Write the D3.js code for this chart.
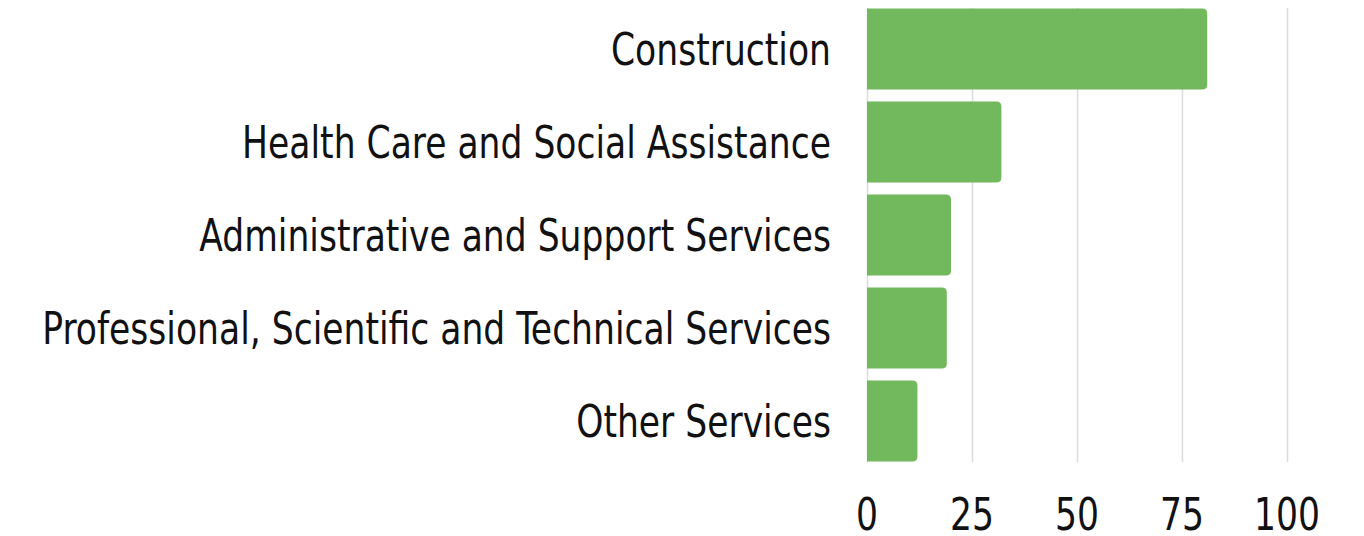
<!DOCTYPE html>
<html>
<head>
<meta charset="utf-8">
<script src="https://cdn.jsdelivr.net/npm/d3@7"></script>
<style>
  body { margin: 0; background: #fff; }
  text { font-family: "Liberation Sans Narrow", "DejaVu Sans Condensed", "DejaVu Sans", sans-serif; fill: #111; }
</style>
</head>
<body>
<div id="viz"></div>
<script>
var categories = ["Construction", "Health Care and Social Assistance", "Administrative and Support Services",
                  "Professional, Scientific and Technical Services", "Other Services"],
    values = [81, 32, 20, 19, 12],
    ticks = [0, 25, 50, 75, 100];

var width = 1364,
    height = 536,
    x0 = 867,
    x1 = 1287,
    y0 = 8.5,
    y1 = 461.5,
    r = 5,
    fontSize = 45,
    labelRight = 831,
    longestWidth = 789; // width the longest label takes in the picture

var svg = d3.select('#viz').append('svg')
  .attr('width', width)
  .attr('height', height);

var xScale = d3.scaleLinear()
  .domain([0, 100])
  .range([x0, x1]);

var yScale = d3.scaleBand()
  .domain(categories)
  .range([y0, y1])
  .paddingInner(0.13)
  .paddingOuter(0);

// grid
svg.append('g').selectAll('line').data(ticks)
  .enter().append('line')
    .attr('x1', function(d) { return Math.round(xScale(d)) + 0.5; })
    .attr('x2', function(d) { return Math.round(xScale(d)) + 0.5; })
    .attr('y1', y0 - 0.5)
    .attr('y2', y1 + 0.5)
    .attr('stroke', '#dcdcdc')
    .attr('stroke-width', 1.5);

// bars, rounded on the right end only
svg.append('g').selectAll('path').data(values)
  .enter().append('path')
    .attr('fill', '#72b85c')
    .attr('d', function(d, i) {
      var x = xScale(0), w = xScale(d) - xScale(0),
          y = yScale(categories[i]), h = yScale.bandwidth();
      return 'M' + x + ',' + y +
        'H' + (x + w - r) +
        'Q' + (x + w) + ',' + y + ' ' + (x + w) + ',' + (y + r) +
        'V' + (y + h - r) +
        'Q' + (x + w) + ',' + (y + h) + ' ' + (x + w - r) + ',' + (y + h) +
        'H' + x + 'Z';
    });

// category labels
var labels = svg.append('g').selectAll('text').data(categories)
  .enter().append('text')
    .attr('x', labelRight)
    .attr('y', function(d) { return yScale(d) + yScale.bandwidth() / 2; })
    .attr('dy', '0.36em')
    .attr('text-anchor', 'end')
    .style('font-size', fontSize + 'px')
    .text(function(d) { return d; });

// x tick labels
var tickLabels = svg.append('g').selectAll('text').data(ticks)
  .enter().append('text')
    .attr('x', function(d) { return xScale(d); })
    .attr('y', 530)
    .attr('text-anchor', 'middle')
    .style('font-size', fontSize + 'px')
    .text(function(d) { return d; });

// no condensed face installed: squeeze the text horizontally instead
var longest = d3.max(labels.nodes(), function(n) { return n.getComputedTextLength(); });
var k = longestWidth / longest;

labels.attr('transform', 'translate(' + labelRight + ',0) scale(' + k + ',1) translate(' + (-labelRight) + ',0)');
tickLabels.attr('transform', function(d) {
  var x = xScale(d);
  return 'translate(' + x + ',0) scale(' + k + ',1) translate(' + (-x) + ',0)';
});
</script>
</body>
</html>
